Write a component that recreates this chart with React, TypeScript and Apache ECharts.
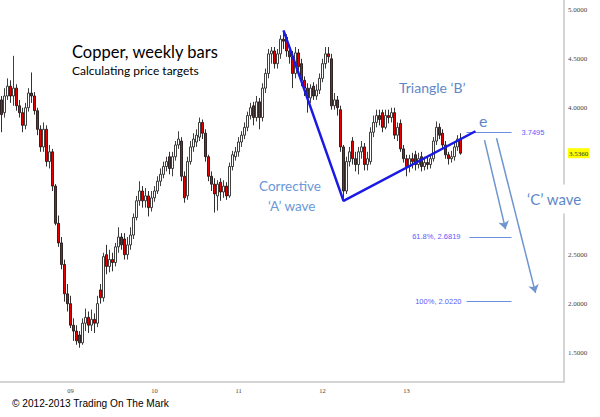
import React, { useEffect, useRef } from "react";
import * as echarts from "echarts";

// Weekly copper candles
const opens = [
  4.08, 3.95, 4.12, 4.22, 4.12, 4.2, 4.02, 3.95, 3.82, 4.0,
  4.15, 4.12, 3.97, 3.78, 3.6, 3.78, 3.45, 3.55, 3.2, 2.82,
  2.62, 2.4, 2.1, 2.0, 1.78, 1.72, 1.68, 1.6, 1.8, 1.86,
  1.78, 1.84, 1.8, 2.14, 2.06, 2.5, 2.38, 2.45, 2.42, 2.58,
  2.68, 2.66, 2.5, 2.6, 2.7, 2.88, 3.05, 3.15, 3.05, 3.1,
  2.98, 3.08, 3.15, 3.25, 3.32, 3.4, 3.5, 3.38, 3.5, 3.62,
  3.66, 3.3, 3.1, 3.45, 3.6, 3.65, 3.7, 3.85, 3.74, 3.5,
  3.3, 3.22, 3.1, 3.24, 3.14, 3.2, 3.1, 3.4, 3.5, 3.55,
  3.65, 3.72, 3.8, 3.92, 4.02, 3.9, 4.06, 3.9, 4.2, 4.35,
  4.55, 4.58, 4.45, 4.55, 4.7, 4.72, 4.58, 4.52, 4.35, 4.56,
  4.45, 4.28, 4.2, 4.1, 4.22, 4.12, 4.18, 4.3, 4.45, 4.55,
  4.5, 4.02, 4.08, 3.98, 3.6, 3.15, 3.45, 3.66, 3.48, 3.42,
  3.55, 3.6, 3.42, 3.45, 3.75, 3.85, 3.92, 3.95, 3.8, 3.92,
  3.9, 3.95, 3.72, 3.84, 3.58, 3.48, 3.4, 3.48, 3.52, 3.42,
  3.5, 3.4, 3.44, 3.42, 3.48, 3.66, 3.8, 3.74, 3.62, 3.52,
  3.48, 3.5, 3.6, 3.68,
];
const closes = [
  3.93, 4.12, 4.22, 4.12, 4.2, 4.02, 3.95, 3.82, 4.0, 4.15,
  4.12, 3.97, 3.78, 3.6, 3.78, 3.45, 3.55, 3.2, 2.82, 2.62,
  2.4, 2.1, 2.0, 1.78, 1.72, 1.62, 1.6, 1.8, 1.86, 1.78,
  1.84, 1.8, 2.0, 2.06, 2.48, 2.38, 2.45, 2.42, 2.58, 2.68,
  2.6, 2.5, 2.6, 2.7, 2.88, 3.05, 3.15, 3.05, 3.1, 2.98,
  3.08, 3.15, 3.25, 3.32, 3.4, 3.45, 3.38, 3.5, 3.62, 3.68,
  3.3, 3.08, 3.45, 3.6, 3.68, 3.72, 3.85, 3.74, 3.5, 3.3,
  3.22, 3.12, 3.22, 3.14, 3.2, 3.1, 3.4, 3.52, 3.55, 3.65,
  3.72, 3.8, 3.92, 4.0, 3.9, 4.06, 3.9, 4.2, 4.35, 4.55,
  4.58, 4.45, 4.55, 4.7, 4.68, 4.58, 4.52, 4.35, 4.56, 4.42,
  4.28, 4.2, 4.1, 4.2, 4.12, 4.18, 4.3, 4.45, 4.55, 4.52,
  4.02, 4.08, 4.0, 3.6, 3.15, 3.45, 3.55, 3.48, 3.42, 3.55,
  3.6, 3.42, 3.48, 3.75, 3.85, 3.92, 3.88, 3.8, 3.92, 3.9,
  3.95, 3.72, 3.8, 3.58, 3.48, 3.4, 3.48, 3.45, 3.42, 3.48,
  3.4, 3.44, 3.42, 3.48, 3.66, 3.8, 3.72, 3.62, 3.52, 3.48,
  3.5, 3.6, 3.68, 3.536,
];
const highs = [
  4.12, 4.2, 4.3, 4.28, 4.53, 4.24, 4.08, 4.0, 4.05, 4.2,
  4.36, 4.16, 4.0, 3.82, 3.85, 3.82, 3.62, 3.58, 3.22, 2.9,
  2.68, 2.45, 2.2, 2.08, 1.85, 1.78, 1.72, 1.85, 1.95, 1.92,
  1.94, 1.9, 2.08, 2.2, 2.52, 2.6, 2.55, 2.52, 2.62, 2.78,
  2.72, 2.72, 2.68, 2.78, 2.92, 3.1, 3.25, 3.2, 3.18, 3.15,
  3.15, 3.2, 3.3, 3.38, 3.45, 3.5, 3.55, 3.55, 3.66, 3.76,
  3.7, 3.35, 3.5, 3.66, 3.74, 3.78, 3.9, 3.88, 3.78, 3.52,
  3.35, 3.28, 3.26, 3.28, 3.26, 3.24, 3.44, 3.56, 3.6, 3.7,
  3.76, 3.85, 3.96, 4.05, 4.06, 4.12, 4.1, 4.25, 4.4, 4.6,
  4.62, 4.62, 4.6, 4.74, 4.77, 4.75, 4.62, 4.58, 4.62, 4.6,
  4.5, 4.32, 4.25, 4.24, 4.26, 4.24, 4.35, 4.5, 4.62, 4.62,
  4.55, 4.15, 4.12, 4.02, 3.62, 3.5, 3.6, 3.7, 3.55, 3.6,
  3.66, 3.64, 3.55, 3.8, 3.92, 3.98, 3.98, 3.98, 3.98, 3.98,
  4.0, 4.0, 3.85, 3.88, 3.62, 3.52, 3.52, 3.54, 3.56, 3.54,
  3.55, 3.5, 3.5, 3.52, 3.7, 3.86, 3.84, 3.78, 3.66, 3.55,
  3.56, 3.64, 3.72, 3.74,
];
const lows = [
  3.75, 3.9, 4.08, 4.05, 4.02, 3.97, 3.9, 3.75, 3.78, 3.96,
  4.05, 3.93, 3.72, 3.55, 3.55, 3.4, 3.38, 3.15, 2.8, 2.58,
  2.35, 2.02, 1.92, 1.75, 1.62, 1.58, 1.55, 1.58, 1.72, 1.7,
  1.72, 1.7, 1.76, 2.0, 2.02, 2.3, 2.32, 2.33, 2.38, 2.52,
  2.55, 2.45, 2.45, 2.55, 2.66, 2.85, 3.0, 2.98, 2.98, 2.89,
  2.94, 3.04, 3.12, 3.2, 3.28, 3.35, 3.32, 3.3, 3.46, 3.58,
  3.25, 3.03, 3.06, 3.42, 3.55, 3.6, 3.66, 3.68, 3.45, 3.25,
  3.15, 2.93, 2.95, 3.05, 3.08, 3.06, 3.08, 3.36, 3.46, 3.5,
  3.6, 3.68, 3.76, 3.88, 3.82, 3.86, 3.78, 3.86, 4.15, 4.3,
  4.45, 4.4, 4.4, 4.5, 4.6, 4.52, 4.45, 4.2, 4.3, 4.38,
  4.22, 4.12, 3.95, 4.05, 4.08, 4.08, 4.14, 4.26, 4.4, 4.46,
  3.98, 3.98, 3.92, 3.55, 3.08, 3.12, 3.4, 3.42, 3.35, 3.32,
  3.48, 3.36, 3.36, 3.42, 3.7, 3.8, 3.82, 3.75, 3.78, 3.84,
  3.85, 3.68, 3.66, 3.55, 3.44, 3.3, 3.34, 3.38, 3.36, 3.38,
  3.35, 3.36, 3.37, 3.38, 3.45, 3.62, 3.68, 3.58, 3.48, 3.42,
  3.44, 3.46, 3.56, 3.52,
];

// x axis: weekly slots, year tick labels
const totalSlots = 188;
const yearLabels = ["09", "10", "11", "12", "13"];
const yearTickIndex = [23, 51, 79, 107, 135];

// y axis tick labels (3.0000 and 3.5000 are hidden behind annotations in the reference)
const yTicks = [1.5, 2, 2.5, 4, 4.5, 5];
const lastPrice = 3.536;

// Elliott wave annotation points [week index, price]
const wavePoints = [
  [94, 4.79],
  [114, 3.05],
  [158, 3.76],
];
// Price targets
const targetE = 3.7495;
const target618 = 2.6819;
const target100 = 2.022;
// 'C' wave arrows [start, end]
const arrow1 = [[161, 3.67], [168, 2.76]];
const arrow2 = [[165, 3.69], [178, 2.11]];

const categories = Array.from({ length: totalSlots }, (_, i) => "w" + i);
const candleData = opens.map((o, i) => [o, closes[i], lows[i], highs[i]]);

export default function App() {
  const ref = useRef<HTMLDivElement>(null);
  useEffect(() => {
    if (!ref.current) return;
    const chart = echarts.init(ref.current, null, { renderer: "svg" });
    const targetLabel = { color: "#5a5aff", fontSize: 7.5, fontFamily: "Liberation Sans" };
    const tLine = { color: "#6a8ee0", width: 1.2, type: "solid" as const };
    const arrowLine = { color: "#6f95cf", width: 1.5, type: "solid" as const };
    chart.setOption({
      animation: false,
      backgroundColor: "#ffffff",
      grid: { left: 0, right: 36, top: 0, bottom: 35, containLabel: false },
      xAxis: {
        type: "category",
        data: categories,
        boundaryGap: true,
        axisLine: { show: true, lineStyle: { color: "#d4d4d4", width: 2 } },
        axisTick: { show: false },
        axisLabel: {
          interval: (index: number) => yearTickIndex.includes(index),
          formatter: (_v: string, index: number) => {
            const k = yearTickIndex.indexOf(index);
            return k >= 0 ? yearLabels[k] : "";
          },
          fontSize: 6.5,
          color: "#444",
          fontFamily: "Liberation Serif",
          margin: 5,
        },
        splitLine: { show: false },
      },
      yAxis: {
        type: "value",
        position: "right",
        min: 1.2,
        max: 5.1,
        scale: true,
        axisLine: { show: true, lineStyle: { color: "#d4d4d4", width: 2 } },
        axisTick: { show: false },
        splitLine: { show: false },
        axisLabel: {
          customValues: [...yTicks, lastPrice],
          formatter: (v: number) =>
            Math.abs(v - lastPrice) < 1e-6 ? "{hl|" + v.toFixed(4) + "}" : v.toFixed(4),
          fontSize: 7,
          color: "#444",
          fontFamily: "Liberation Serif",
          margin: 4,
          rich: {
            hl: {
              backgroundColor: "#ffff00",
              color: "#333",
              fontSize: 7,
              fontFamily: "Liberation Serif",
              padding: [2, 1, 1, 1],
            },
          },
        },
      },
      series: [
        {
          type: "candlestick",
          data: candleData,
          barWidth: 2.8,
          itemStyle: {
            color: "#ffffff",
            color0: "#e50000",
            borderColor: "#2a2a2a",
            borderColor0: "#1a1a1a",
            borderWidth: 0.9,
          },
          silent: true,
        },
        {
          type: "line",
          data: wavePoints,
          symbol: "none",
          lineStyle: { color: "#1a1ae6", width: 2.5 },
          silent: true,
          z: 5,
          markLine: {
            silent: true,
            animation: false,
            symbol: ["none", "none"],
            data: [
              [
                { coord: [155, targetE], lineStyle: tLine },
                {
                  coord: [170, targetE],
                  label: { show: true, position: "end", distance: 10, formatter: targetE.toFixed(4), ...targetLabel },
                },
              ],
              [
                {
                  coord: [156, target618],
                  lineStyle: tLine,
                  label: { show: true, position: "start", distance: 9, formatter: "61.8%, " + target618.toFixed(4), ...targetLabel },
                },
                { coord: [170, target618] },
              ],
              [
                {
                  coord: [155, target100],
                  lineStyle: tLine,
                  label: { show: true, position: "start", distance: 5, formatter: "100%, " + target100.toFixed(4), ...targetLabel },
                },
                { coord: [170, target100] },
              ],
              [
                { coord: arrow1[0], lineStyle: arrowLine, symbol: "none", label: { show: false } },
                { coord: arrow1[1], symbol: "arrow", symbolSize: 8, label: { show: false } },
              ],
              [
                { coord: arrow2[0], lineStyle: arrowLine, symbol: "none", label: { show: false } },
                { coord: arrow2[1], symbol: "arrow", symbolSize: 8, label: { show: false } },
              ],
            ],
          },
        },
      ],
      graphic: [
        {
          type: "text",
          x: 72,
          y: 52,
          z: 100,
          style: { text: "Copper, weekly bars", fill: "#000", fontSize: 16.5, fontFamily: "Lato", verticalAlign: "middle" },
        },
        {
          type: "text",
          x: 72,
          y: 70,
          z: 100,
          style: { text: "Calculating price targets", fill: "#000", fontSize: 12, fontFamily: "Lato", verticalAlign: "middle" },
        },
        {
          type: "text",
          x: 399,
          y: 87,
          z: 100,
          style: { text: "Triangle \u2018B\u2019", fill: "#5f87c8", fontSize: 14, fontFamily: "Lato", verticalAlign: "middle" },
        },
        {
          type: "text",
          x: 479,
          y: 120,
          z: 100,
          style: { text: "e", fill: "#5f87c8", fontSize: 16, fontFamily: "Lato", verticalAlign: "middle" },
        },
        {
          type: "text",
          x: 259,
          y: 186,
          z: 100,
          style: { text: "Corrective", fill: "#6a98d8", fontSize: 13.5, fontFamily: "Lato", verticalAlign: "middle" },
        },
        {
          type: "text",
          x: 268,
          y: 206,
          z: 100,
          style: { text: "\u2018A\u2019 wave", fill: "#6a98d8", fontSize: 13.5, fontFamily: "Lato", verticalAlign: "middle" },
        },
        {
          type: "text",
          x: 523,
          y: 199,
          z: 100,
          style: {
            text: "\u2018C\u2019 wave",
            fill: "#5f87c8",
            fontSize: 15,
            fontFamily: "Lato",
            verticalAlign: "middle",
            backgroundColor: "#ffffff",
            padding: [7, 4, 7, 4],
          },
        },
        {
          type: "text",
          x: 12,
          y: 403,
          z: 100,
          scaleX: 0.88,
          style: { text: "\u00a9 2012-2013 Trading On The Mark", fill: "#000", fontSize: 11.5, fontFamily: "Liberation Sans", verticalAlign: "middle" },
        },
      ],
    });
    return () => chart.dispose();
  }, []);
  return (
    <div
      ref={ref}
      style={{ position: "absolute", left: 0, top: 0, width: 600, height: 417, background: "#fff" }}
    />
  );
}
